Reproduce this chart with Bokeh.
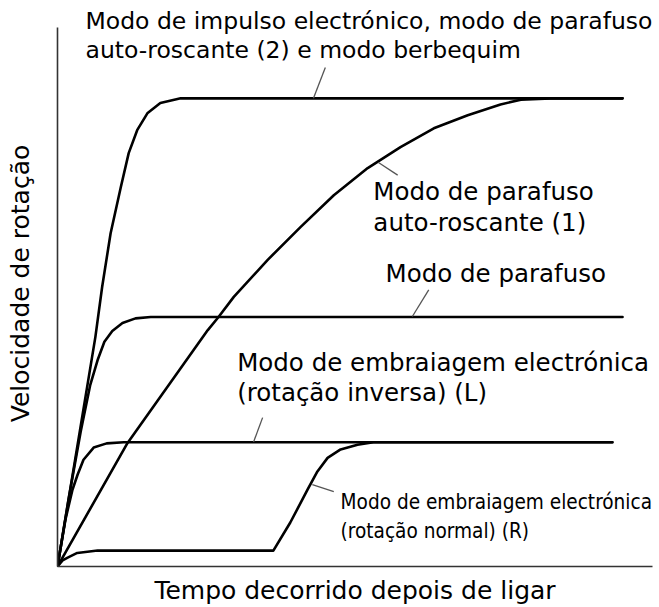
from bokeh.plotting import figure
from bokeh.models import Range1d, FixedTicker, Label
from bokeh.embed import file_html
from bokeh.resources import INLINE

# ---- data (time after switching on, rotation speed; arbitrary units) ----
impulse_t = [0, 6.7, 7.9, 9.4, 11.2, 12.6, 14.1, 15.9, 18.2, 21.8, 100]
impulse_v = [0, 49.0, 59.7, 71.2, 81.0, 88.3, 93.2, 96.8, 99.0, 100, 100]

tapping1_t = [0, 12.4, 26.6, 28.5, 31.2, 37.2, 43.0, 48.9, 54.9, 60.7, 66.6, 72.6, 78.4, 82.0, 87.3, 100]
tapping1_v = [0, 26.4, 50.5, 53.3, 57.6, 65.5, 72.5, 79.3, 85.1, 89.6, 93.6, 96.4, 98.7, 99.7, 100, 100]

screw_t = [0, 1.95, 4.1, 5.8, 7.1, 8.3, 9.7, 11.5, 13.8, 16.5, 100]
screw_v = [0, 14.3, 28.8, 38.8, 44.1, 48.0, 50.3, 52.0, 53.0, 53.3, 53.3]

clutch_l_t = [0, 1.4, 2.65, 3.55, 4.6, 6.4, 8.7, 11.7, 98.2]
clutch_l_v = [0, 10.0, 16.4, 19.6, 22.8, 25.4, 26.3, 26.55, 26.55]

clutch_r_t = [0, 0.9, 1.8, 3.5, 7.1, 38.2, 41.2, 44.25, 46.0, 47.8, 50.1, 53.1, 55.9, 98.2]
clutch_r_v = [0, 1.3, 1.9, 2.9, 3.4, 3.4, 9.4, 16.4, 20.3, 23.2, 25.0, 26.0, 26.55, 26.55]

curves = [
    (impulse_t, impulse_v),
    (tapping1_t, tapping1_v),
    (screw_t, screw_v),
    (clutch_l_t, clutch_l_v),
    (clutch_r_t, clutch_r_v),
]

# one entry per printed line of each annotation
annotation_lines = [
    "Modo de impulso electrónico, modo de parafuso",
    "auto-roscante (2) e modo berbequim",
    "Modo de parafuso",
    "auto-roscante (1)",
    "Modo de parafuso",
    "Modo de embraiagem electrónica",
    "(rotação inversa) (L)",
    "Modo de embraiagem electrónica",
    "(rotação normal) (R)",
]
# leader lines: from a point on the curve to the label
leader_t0 = [45.3, 56.8, 62.8, 34.7, 45.1]
leader_v0 = [100.0, 86.3, 53.4, 26.6, 17.5]
leader_t1 = [47.4, 60.2, 65.7, 36.3, 48.9]
leader_v1 = [106.6, 83.6, 59.1, 31.8, 16.0]

x_title = "Tempo decorrido depois de ligar"
y_title = "Velocidade de rotação"

# ---- layout / style ----
line_x = [4.96, 4.96, 55.9, 55.9, 58.05, 31.8, 31.8, 50.1, 50.1]
line_y = [116.6, 110.4, 80.0, 73.45, 62.5, 43.5, 37.1, 13.75, 7.53]
line_font = ["DejaVu Sans"] * 7 + ["DejaVu Sans Condensed"] * 2
line_size = ["23.5px", "23.5px", "24.5px", "24.5px", "24.5px", "24.5px", "24.5px",
             "20.6px", "20.6px"]

FONT = "DejaVu Sans"

p = figure(width=659, height=607, output_backend="svg", toolbar_location=None,
           x_range=Range1d(0, 105.3), y_range=Range1d(0, 120.9),
           min_border_left=57, min_border_right=7, min_border_top=0,
           min_border_bottom=40)
p.outline_line_color = None
p.grid.visible = False
p.background_fill_color = "white"
p.border_fill_color = "white"

for ax in (p.xaxis[0], p.yaxis[0]):
    ax.ticker = FixedTicker(ticks=[])
    ax.major_tick_out = 0
    ax.major_tick_in = 0
    ax.minor_tick_out = 0
    ax.minor_tick_in = 0
    ax.major_label_standoff = 0
    ax.axis_line_color = "#333333"
    ax.axis_line_width = 1.6
    ax.axis_label_text_font = FONT
    ax.axis_label_text_font_size = "25px"
    ax.axis_label_text_font_style = "normal"
    ax.axis_label_text_color = "black"

p.xaxis[0].axis_label = x_title
p.xaxis[0].axis_label_standoff = 9
p.yaxis[0].axis_label = y_title
p.yaxis[0].axis_label_standoff = 23
p.yaxis[0].bounds = (0, 115.1)

for t, v in curves:
    p.line(t, v, line_color="black", line_width=2.6, line_join="round", line_cap="round")

p.segment(x0=leader_t0, y0=leader_v0, x1=leader_t1, y1=leader_v1,
          line_color="#555555", line_width=1.3)

for txt, lx, ly, fnt, fs in zip(annotation_lines, line_x, line_y, line_font, line_size):
    p.add_layout(Label(x=lx, y=ly, text=txt, text_font=fnt, text_font_size=fs,
                       text_align="left", text_baseline="middle", text_color="black"))

open("out.html", "w").write(file_html(p, INLINE))
